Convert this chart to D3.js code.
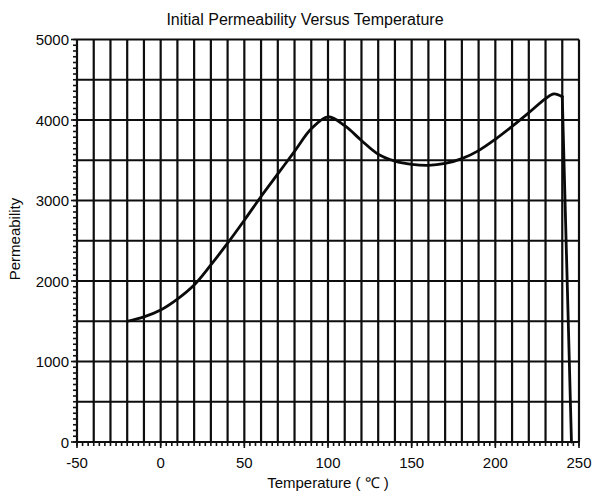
<!DOCTYPE html>
<html>
<head>
<meta charset="utf-8">
<script src="https://cdn.jsdelivr.net/npm/d3@7"></script>
<style>
  html, body { margin: 0; padding: 0; background: #fff; }
  svg text { font-family: "Liberation Sans", Arial, sans-serif; fill: #0a0a0a; }
</style>
</head>
<body>
<svg id="chart" width="597" height="496"></svg>
<script>
// Initial permeability of the ferrite core against temperature
const temperature = [-20, -10, 0, 10, 20, 30, 40, 50, 60, 70, 80, 90, 100, 110, 120, 130, 140, 150, 160, 170, 180, 190, 200, 210, 220, 230, 235, 240, 245.5];
const permeability = [1500, 1555, 1640, 1775, 1950, 2200, 2470, 2755, 3050, 3330, 3610, 3890, 4040, 3930, 3745, 3575, 3490, 3450, 3437, 3460, 3520, 3620, 3760, 3920, 4090, 4265, 4325, 4290, 0];

const xTickValues = [-50, 0, 50, 100, 150, 200, 250];
const yTickValues = [0, 1000, 2000, 3000, 4000, 5000];

const titleText = "Initial Permeability Versus Temperature";
const xLabel = "Temperature ( \u2103 )";
const yLabel = "Permeability";

const svg = d3.select("#chart");
const plotLeft = 77, plotRight = 579, plotTop = 39.5, plotBottom = 442;

const x = d3.scaleLinear().domain([-50, 250]).range([plotLeft, plotRight]);
const y = d3.scaleLinear().domain([0, 5000]).range([plotBottom, plotTop]);

// grid: every 10 degrees and every 500
const gx = d3.range(-50, 251, 10);
const gy = d3.range(0, 5001, 500);
const grid = svg.append("g").attr("stroke", "#0d0d0d").attr("stroke-width", 2.2);
grid.selectAll("line.v").data(gx).join("line")
  .attr("x1", d => x(d)).attr("x2", d => x(d))
  .attr("y1", y(0)).attr("y2", y(5000));
grid.selectAll("line.h").data(gy).join("line")
  .attr("y1", d => y(d)).attr("y2", d => y(d))
  .attr("x1", x(-50)).attr("x2", x(250));

// minor ticks outside the frame
const minorX = d3.range(0, 91).map(i => -50 + i * 10 / 3);
const minorY = d3.range(0, 71).map(i => i * 500 / 7);
const ticks = svg.append("g").attr("stroke", "#111").attr("stroke-width", 1.6);
ticks.selectAll("line.mx").data(minorX).join("line")
  .attr("x1", d => x(d)).attr("x2", d => x(d))
  .attr("y1", y(0)).attr("y2", y(0) + 4);
ticks.selectAll("line.my").data(minorY).join("line")
  .attr("y1", d => y(d)).attr("y2", d => y(d))
  .attr("x1", x(-50) - 4).attr("x2", x(-50));
ticks.selectAll("line.Mx").data(xTickValues).join("line")
  .attr("x1", d => x(d)).attr("x2", d => x(d))
  .attr("y1", y(0)).attr("y2", y(0) + 6);
ticks.selectAll("line.My").data(yTickValues).join("line")
  .attr("y1", d => y(d)).attr("y2", d => y(d))
  .attr("x1", x(-50) - 6).attr("x2", x(-50));

// tick labels
svg.append("g").selectAll("text").data(xTickValues).join("text")
  .attr("x", d => x(d)).attr("y", plotBottom + 26)
  .attr("text-anchor", "middle").attr("font-size", 15)
  .text(d => d);
svg.append("g").selectAll("text").data(yTickValues).join("text")
  .attr("x", plotLeft - 8).attr("y", d => y(d) + 5.5)
  .attr("text-anchor", "end").attr("font-size", 15)
  .text(d => d);

// curve: smooth body up to the Curie drop, then a straight fall to zero
const pts = temperature.map((t, i) => [t, permeability[i]]);
const n = pts.length;
const smooth = d3.line()
  .x(d => x(d[0])).y(d => y(d[1]))
  .curve(d3.curveCatmullRom.alpha(0.5));
const straight = d3.line()
  .x(d => x(d[0])).y(d => y(d[1]));
const curveG = svg.append("g")
  .attr("fill", "none").attr("stroke", "#0a0a0a")
  .attr("stroke-width", 2.8).attr("stroke-linejoin", "round").attr("stroke-linecap", "round");
curveG.append("path").attr("d", smooth(pts.slice(0, n - 1)));
curveG.append("path").attr("d", straight(pts.slice(n - 2)));

// titles
svg.append("text").attr("x", 305).attr("y", 25)
  .attr("text-anchor", "middle").attr("font-size", 16)
  .text(titleText);
svg.append("text").attr("x", 328).attr("y", 488)
  .attr("text-anchor", "middle").attr("font-size", 15)
  .text(xLabel);
svg.append("text")
  .attr("transform", "translate(20,239) rotate(-90)")
  .attr("text-anchor", "middle").attr("font-size", 15)
  .text(yLabel);
</script>
</body>
</html>
